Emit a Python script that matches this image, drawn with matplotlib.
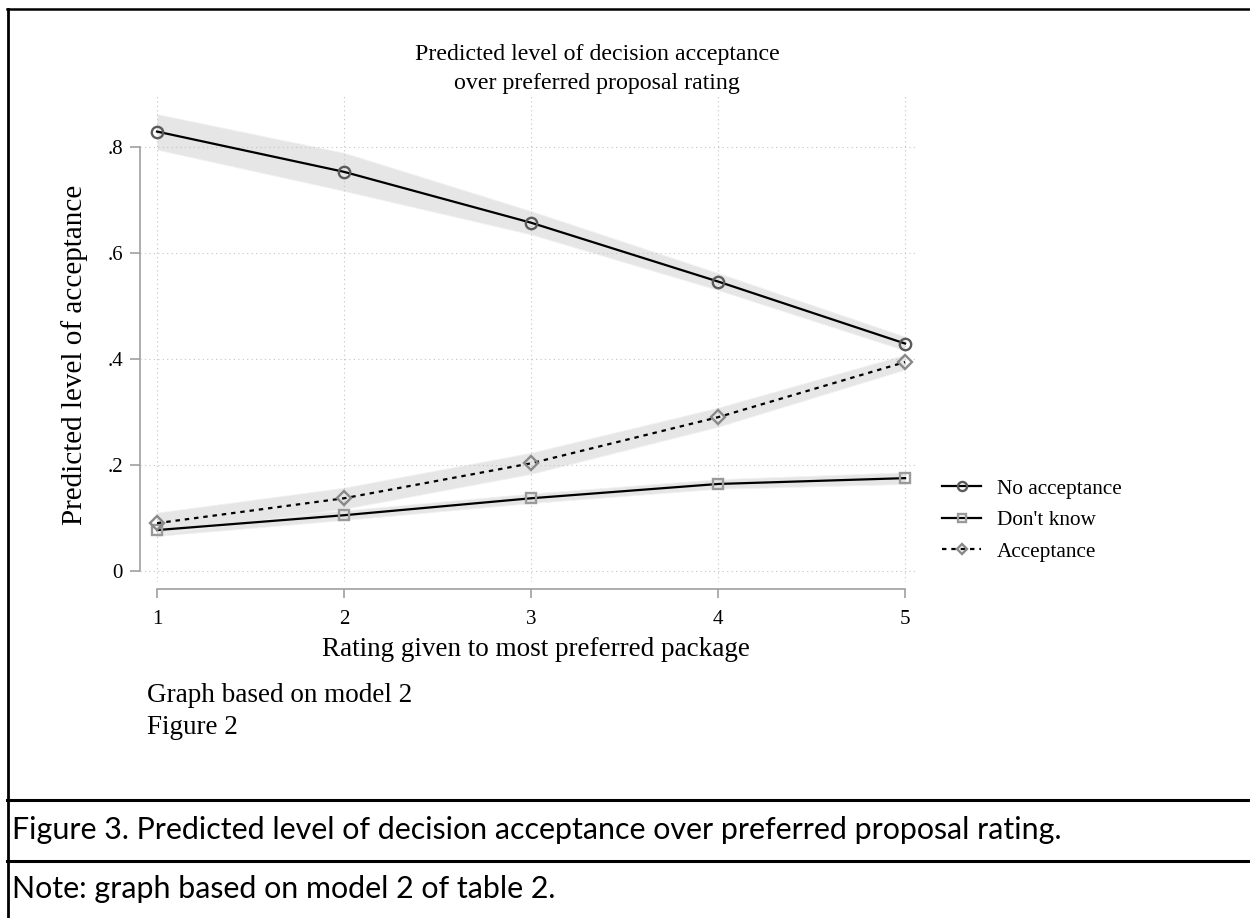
import matplotlib
matplotlib.use("Agg")
import matplotlib.pyplot as plt
from matplotlib.lines import Line2D

# ---------------- data ----------------
rating = [1, 2, 3, 4, 5]
no_accept = [0.829, 0.753, 0.657, 0.546, 0.429]
no_accept_lo = [0.795, 0.717, 0.635, 0.530, 0.416]
no_accept_hi = [0.862, 0.789, 0.679, 0.562, 0.442]
dont_know = [0.077, 0.105, 0.137, 0.164, 0.175]
dont_know_lo = [0.066, 0.096, 0.128, 0.155, 0.164]
dont_know_hi = [0.088, 0.114, 0.146, 0.173, 0.186]
accept = [0.090, 0.137, 0.203, 0.290, 0.394]
accept_lo = [0.070, 0.117, 0.183, 0.272, 0.380]
accept_hi = [0.110, 0.157, 0.223, 0.308, 0.408]
series_names = ["No acceptance", "Don't know", "Acceptance"]
ytick_vals = [0, 0.2, 0.4, 0.6, 0.8]
ytick_labels = ["0", ".2", ".4", ".6", ".8"]
title1 = "Predicted level of decision acceptance"
title2 = "over preferred proposal rating"
xlabel = "Rating given to most preferred package"
ylabel = "Predicted level of acceptance"
note1 = "Graph based on model 2"
note2 = "Figure 2"
caption = "Figure 3. Predicted level of decision acceptance over preferred proposal rating."
note = "Note: graph based on model 2 of table 2."

W, H = 1250, 918
SERIF = "Liberation Serif"
SANS = "Lato"
fig = plt.figure(figsize=(W / 100, H / 100), dpi=100)
fig.patch.set_facecolor("white")
renderer = fig.canvas.get_renderer()


def fx(px):
    return px / W


def fy(py):
    return 1 - py / H


def width_px(s, family, size):
    t = fig.text(0, 0, s, family=family, fontsize=size)
    w = t.get_window_extent(renderer).width
    t.remove()
    return w


def size_for(s, family, target):
    return 20.0 * target / width_px(s, family, 20.0)


ax = fig.add_axes([fx(140), fy(582), fx(915) - fx(140), fy(95) - fy(582)])
ax.set_xlim(0.909, 5.053)
ax.set_ylim(-0.021, 0.898)

band = "#e6e6e6"
for lo, hi in [(no_accept_lo, no_accept_hi), (dont_know_lo, dont_know_hi), (accept_lo, accept_hi)]:
    ax.fill_between(rating, lo, hi, color=band, lw=0.6, edgecolor="#f2f2f2", zorder=1)

ms = 8.2
mew = 1.7
h1, = ax.plot(rating, no_accept, color="black", lw=1.6, marker="o", ms=ms,
              mfc="none", mec="#5a5a5a", mew=mew, zorder=3)
h2, = ax.plot(rating, dont_know, color="black", lw=1.6, marker="s", ms=ms * 0.95,
              mfc="none", mec="#9a9a9a", mew=mew, zorder=3)
h3, = ax.plot(rating, accept, color="black", lw=1.6, ls=(0, (2.0, 2.2)), marker="D", ms=ms * 0.85,
              mfc="none", mec="#888888", mew=mew, zorder=3)

ax.set_xticks(rating)
ax.set_yticks(ytick_vals)
ax.set_yticklabels(ytick_labels)
ax.grid(True, ls=(0, (1, 3)), color="#c4c4c4", lw=0.8, zorder=0)

for s in ["top", "right"]:
    ax.spines[s].set_visible(False)
ax.spines["left"].set_bounds(0, 0.8)
ax.spines["bottom"].set_bounds(1, 5)
ax.spines["bottom"].set_position(("outward", 5.0))
for s in ["left", "bottom"]:
    ax.spines[s].set_color("#a0a0a0")
    ax.spines[s].set_linewidth(1.2)

ax.tick_params(axis="y", direction="out", length=7.2, width=1.2, color="#a0a0a0",
               pad=5, labelsize=15)
ax.tick_params(axis="x", direction="out", length=6.5, width=1.2, color="#a0a0a0",
               pad=9, labelsize=15)
for lab in ax.get_xticklabels() + ax.get_yticklabels():
    lab.set_fontfamily(SERIF)

# axis titles
xl_size = size_for("Rating given to most pref", SERIF, 600 - 322)
fig.text(fx(322), fy(650), xlabel, ha="left", va="center", fontsize=xl_size, family=SERIF)
yl_size = size_for(ylabel, SERIF, 340)
fig.text(fx(75), fy(355), ylabel, rotation=90, ha="center", va="center",
         fontsize=yl_size, family=SERIF)

t_size = size_for(title1, SERIF, 365)
fig.text(fx(597), fy(60), title1, ha="center", va="baseline", fontsize=t_size, family=SERIF)
fig.text(fx(597), fy(60 + 1.2 * t_size * 100 / 72), title2, ha="center", va="baseline",
         fontsize=t_size, family=SERIF)

fig.text(fx(147), fy(695), note1, ha="left", va="center", fontsize=xl_size, family=SERIF)
fig.text(fx(147), fy(728), note2, ha="left", va="center", fontsize=xl_size, family=SERIF)

# legend
lg_size = size_for("No acceptance", SERIF, 124)
fig.legend([h1, h2, h3], series_names, loc="upper left",
           bbox_to_anchor=(fx(942), fy(479)), frameon=False,
           prop={"family": SERIF, "size": lg_size}, handlelength=1.85,
           handletextpad=0.75, labelspacing=0.55, borderpad=0,
           borderaxespad=0, markerscale=0.8)

# table borders
lk = dict(color="black", transform=fig.transFigure)
fig.add_artist(Line2D([fx(7), fx(1250)], [fy(9), fy(9)], lw=1.8, **lk))
fig.add_artist(Line2D([fx(8), fx(8)], [fy(9), fy(918)], lw=2.0, **lk))
fig.add_artist(Line2D([fx(7), fx(1250)], [fy(800), fy(800)], lw=2.2, **lk))
fig.add_artist(Line2D([fx(7), fx(1250)], [fy(861), fy(861)], lw=2.2, **lk))

c_size = size_for("Figure 3. Predicted level of decision accepta", SANS, 588)
fig.text(fx(12), fy(830), caption, ha="left", va="center", fontsize=c_size, family=SANS)
fig.text(fx(12), fy(889), note, ha="left", va="center", fontsize=c_size, family=SANS)

fig.savefig("out.png", dpi=100, facecolor="white")
